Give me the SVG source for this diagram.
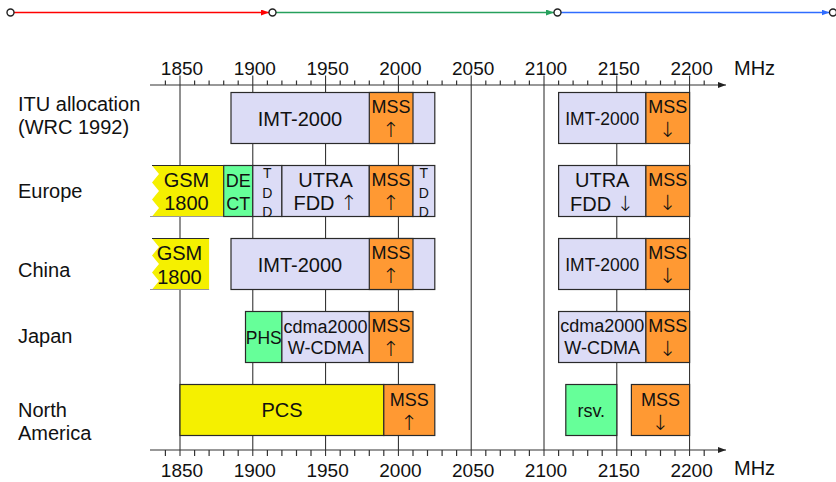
<svg xmlns="http://www.w3.org/2000/svg" width="836" height="482" viewBox="0 0 836 482">
<style>
text{font-family:"Liberation Sans",Arial,"DejaVu Sans",sans-serif;fill:#111}
.f20{font-size:20px}
.f19{font-size:19px}
.f18{font-size:18px}
.f175{font-size:17.5px}
.f13{font-size:14px}
.m{text-anchor:middle}
text.arr,tspan.arr{font-family:"DejaVu Sans",sans-serif;font-size:21px;font-weight:200}
.lav{fill:#dcdcf6;stroke:#2a2a2a;stroke-width:1.2}
.org{fill:#ff9933;stroke:#2a2a2a;stroke-width:1.2}
.grn{fill:#66ff99;stroke:#2a2a2a;stroke-width:1.2}
.yel{fill:#f5f000;stroke:#2a2a2a;stroke-width:1.2}
.zig{fill:#f5f000;stroke:none}
.grid{stroke:#222;stroke-width:1;fill:none}
.axis{stroke:#333;stroke-width:1.2;fill:none}
.node{fill:#fff;stroke:#222;stroke-width:1.4}
</style>
<defs>
<marker id="ahR" viewBox="0 0 8 6" refX="8" refY="3" markerWidth="8" markerHeight="6" markerUnits="userSpaceOnUse" orient="auto"><path d="M0,0L8,3L0,6z" fill="#ff0000"/></marker>
<marker id="ahG" viewBox="0 0 8 6" refX="8" refY="3" markerWidth="8" markerHeight="6" markerUnits="userSpaceOnUse" orient="auto"><path d="M0,0L8,3L0,6z" fill="#26a05c"/></marker>
<marker id="ahB" viewBox="0 0 8 6" refX="8" refY="3" markerWidth="8" markerHeight="6" markerUnits="userSpaceOnUse" orient="auto"><path d="M0,0L8,3L0,6z" fill="#2f6cff"/></marker>
<marker id="ahK" viewBox="0 0 8 6" refX="8" refY="3" markerWidth="8" markerHeight="6" markerUnits="userSpaceOnUse" orient="auto"><path d="M0,0L8,3L0,6z" fill="#222"/></marker>
</defs>

<!-- top flow -->
<g id="connectors">
<line x1="14" y1="12.5" x2="269" y2="12.5" stroke="#ff0000" stroke-width="1.5" marker-end="url(#ahR)"/>
<line x1="276" y1="12.5" x2="554" y2="12.5" stroke="#26a05c" stroke-width="1.5" marker-end="url(#ahG)"/>
<line x1="561" y1="12.5" x2="829.5" y2="12.5" stroke="#2f6cff" stroke-width="1.5" marker-end="url(#ahB)"/>
</g>
<g id="n1"><circle class="node" cx="10.5" cy="12.5" r="3.5"/></g>
<g id="n2"><circle class="node" cx="272.5" cy="12.5" r="3.5"/></g>
<g id="n3"><circle class="node" cx="557.5" cy="12.5" r="3.5"/></g>
<g id="n4"><circle class="node" cx="833" cy="12.5" r="3.5"/></g>

<!-- gridlines -->
<g id="grid">
<path class="grid" d="M180,75.5V456M252.8,75.5V456M325.6,75.5V456M398.4,75.5V456M471.2,75.5V456M544,75.5V456M616.8,75.5V456M689.6,75.5V456"/>
</g>

<!-- axes -->
<g id="axis-top">
<line class="axis" x1="150" y1="85" x2="726" y2="85" marker-end="url(#ahK)"/>
<path class="axis" d="M165.4,80.5V85M194.6,80.5V85M209.1,80.5V85M223.7,80.5V85M238.2,80.5V85M267.4,80.5V85M281.9,80.5V85M296.5,80.5V85M311,80.5V85M340.2,80.5V85M354.7,80.5V85M369.3,80.5V85M383.8,80.5V85M413,80.5V85M427.5,80.5V85M442.1,80.5V85M456.6,80.5V85M485.8,80.5V85M500.3,80.5V85M514.9,80.5V85M529.4,80.5V85M558.6,80.5V85M573.1,80.5V85M587.7,80.5V85M602.2,80.5V85M631.4,80.5V85M645.9,80.5V85M660.5,80.5V85M675,80.5V85M704.2,80.5V85"/>
<g class="f19 m">
<text x="182" y="75">1850</text><text x="254.8" y="75">1900</text><text x="327.6" y="75">1950</text><text x="400.4" y="75">2000</text><text x="473.2" y="75">2050</text><text x="546" y="75">2100</text><text x="618.8" y="75">2150</text><text x="691.6" y="75">2200</text>
</g>
<text class="f20" x="734" y="75">MHz</text>
</g>
<g id="axis-bottom">
<line class="axis" x1="150" y1="450" x2="726" y2="450" marker-end="url(#ahK)"/>
<path class="axis" d="M165.4,450V456M194.6,450V456M209.1,450V456M223.7,450V456M238.2,450V456M267.4,450V456M281.9,450V456M296.5,450V456M311,450V456M340.2,450V456M354.7,450V456M369.3,450V456M383.8,450V456M413,450V456M427.5,450V456M442.1,450V456M456.6,450V456M485.8,450V456M500.3,450V456M514.9,450V456M529.4,450V456M558.6,450V456M573.1,450V456M587.7,450V456M602.2,450V456M631.4,450V456M645.9,450V456M660.5,450V456M675,450V456M704.2,450V456"/>
<g class="f19 m">
<text x="182" y="477">1850</text><text x="254.8" y="477">1900</text><text x="327.6" y="477">1950</text><text x="400.4" y="477">2000</text><text x="473.2" y="477">2050</text><text x="546" y="477">2100</text><text x="618.8" y="477">2150</text><text x="691.6" y="477">2200</text>
</g>
<text class="f20" x="734" y="475">MHz</text>
</g>

<!-- row labels -->
<g id="lbl-itu"><text class="f20" x="18" y="111">ITU allocation</text><text class="f20" x="18" y="134">(WRC 1992)</text></g>
<g id="lbl-europe"><text class="f20" x="18" y="198">Europe</text></g>
<g id="lbl-china"><text class="f20" x="18" y="277">China</text></g>
<g id="lbl-japan"><text class="f20" x="18" y="343">Japan</text></g>
<g id="lbl-na"><text class="f20" x="18" y="417">North</text><text class="f20" x="18" y="440">America</text></g>

<!-- ITU row -->
<g id="itu-imt"><rect class="lav" x="231" y="92.5" width="203.8" height="51"/><text class="f20 m" x="300" y="126">IMT-2000</text></g>
<g id="itu-mss"><rect class="org" x="369.3" y="92.5" width="43.7" height="51"/><text class="f18 m" x="391" y="112.5">MSS</text><text class="arr m" x="391" y="137">↑</text></g>
<g id="itu-imt2"><rect class="lav" x="558.6" y="92.5" width="87.3" height="51"/><text class="f175 m" x="602.2" y="124.5">IMT-2000</text></g>
<g id="itu-mss2"><rect class="org" x="645.9" y="92.5" width="43.7" height="51"/><text class="f18 m" x="667.8" y="112.5">MSS</text><text class="arr m" x="667.8" y="137">↓</text></g>

<!-- Europe row -->
<g id="eu-gsm">
<path class="zig" d="M152,165.5H223.7V216.5H152L159,208L152,199.5L159,191L152,182.5L159,174Z"/>
<path d="M152,165.5H223.7" stroke="#2a2a2a" stroke-width="1.2"/>
<path d="M150,216.5H223.7" stroke="#999" stroke-width="1.2"/>
<text class="f20 m" x="186.5" y="187">GSM</text><text class="f20 m" x="186.5" y="210">1800</text>
</g>
<g id="eu-dect"><rect class="grn" x="223.7" y="165.5" width="29.1" height="51"/><text class="f18 m" x="238.2" y="187">DE</text><text class="f18 m" x="238.2" y="209.5">CT</text></g>
<g id="eu-tdd1"><rect class="lav" x="252.8" y="165.5" width="29.1" height="51"/><text class="f13 m" x="267.4" y="178">T</text><text class="f13 m" x="267.4" y="197.5">D</text><text class="f13 m" x="267.4" y="216.5">D</text></g>
<g id="eu-utra"><rect class="lav" x="281.9" y="165.5" width="87.4" height="51"/><text class="f20 m" x="325.6" y="187">UTRA</text><text class="f20 m" x="325.6" y="210">FDD <tspan class="arr">↑</tspan></text></g>
<g id="eu-mss"><rect class="org" x="369.3" y="165.5" width="43.7" height="51"/><text class="f18 m" x="391" y="185.5">MSS</text><text class="arr m" x="391" y="210">↑</text></g>
<g id="eu-tdd2"><rect class="lav" x="413" y="165.5" width="21.8" height="51"/><text class="f13 m" x="423.9" y="178">T</text><text class="f13 m" x="423.9" y="197.5">D</text><text class="f13 m" x="423.9" y="216.5">D</text></g>
<g id="eu-utra2"><rect class="lav" x="558.6" y="165.5" width="87.3" height="51"/><text class="f20 m" x="602.2" y="187">UTRA</text><text class="f20 m" x="602.2" y="211">FDD <tspan class="arr">↓</tspan></text></g>
<g id="eu-mss2"><rect class="org" x="645.9" y="165.5" width="43.7" height="51"/><text class="f18 m" x="667.8" y="185.5">MSS</text><text class="arr m" x="667.8" y="210">↓</text></g>

<!-- China row -->
<g id="cn-gsm">
<path class="zig" d="M152,238.5H209.1V289.5H152L159,281L152,272.5L159,264L152,255.5L159,247Z"/>
<path d="M152,238.5H209.1" stroke="#2a2a2a" stroke-width="1.2"/>
<path d="M150,289.5H209.1" stroke="#999" stroke-width="1.2"/>
<text class="f20 m" x="179.5" y="260">GSM</text><text class="f20 m" x="179.5" y="284">1800</text>
</g>
<g id="cn-imt"><rect class="lav" x="231" y="238.5" width="203.8" height="51"/><text class="f20 m" x="300" y="272">IMT-2000</text></g>
<g id="cn-mss"><rect class="org" x="369.3" y="238.5" width="43.7" height="51"/><text class="f18 m" x="391" y="258.5">MSS</text><text class="arr m" x="391" y="283">↑</text></g>
<g id="cn-imt2"><rect class="lav" x="558.6" y="238.5" width="87.3" height="51"/><text class="f175 m" x="602.2" y="270.5">IMT-2000</text></g>
<g id="cn-mss2"><rect class="org" x="645.9" y="238.5" width="43.7" height="51"/><text class="f18 m" x="667.8" y="258.5">MSS</text><text class="arr m" x="667.8" y="283">↓</text></g>

<!-- Japan row -->
<g id="jp-phs"><rect class="grn" x="245.5" y="311.5" width="36.4" height="51"/><text class="f175 m" x="263.7" y="344">PHS</text></g>
<g id="jp-cdma"><rect class="lav" x="281.9" y="311.5" width="87.4" height="51"/><text class="f18 m" x="325.6" y="333">cdma2000</text><text class="f18 m" x="325.6" y="354">W-CDMA</text></g>
<g id="jp-mss"><rect class="org" x="369.3" y="311.5" width="43.7" height="51"/><text class="f18 m" x="391" y="331.5">MSS</text><text class="arr m" x="391" y="356">↑</text></g>
<g id="jp-cdma2"><rect class="lav" x="558.6" y="311.5" width="87.3" height="51"/><text class="f18 m" x="602.2" y="332">cdma2000</text><text class="f18 m" x="602.2" y="353.5">W-CDMA</text></g>
<g id="jp-mss2"><rect class="org" x="645.9" y="311.5" width="43.7" height="51"/><text class="f18 m" x="667.8" y="331.5">MSS</text><text class="arr m" x="667.8" y="356">↓</text></g>

<!-- North America row -->
<g id="na-pcs"><rect class="yel" x="180" y="384.5" width="203.8" height="51"/><text class="f20 m" x="282" y="417">PCS</text></g>
<g id="na-mss"><rect class="org" x="383.8" y="384.5" width="51" height="51"/><text class="f18 m" x="409.3" y="406">MSS</text><text class="arr m" x="409.3" y="429.5">↑</text></g>
<g id="na-rsv"><rect class="grn" x="565.8" y="384.5" width="51" height="51"/><text class="f18 m" x="591.3" y="416.5">rsv.</text></g>
<g id="na-mss2"><rect class="org" x="631.4" y="384.5" width="58.2" height="51"/><text class="f18 m" x="660.5" y="406">MSS</text><text class="arr m" x="660.5" y="429.5">↓</text></g>
</svg>
